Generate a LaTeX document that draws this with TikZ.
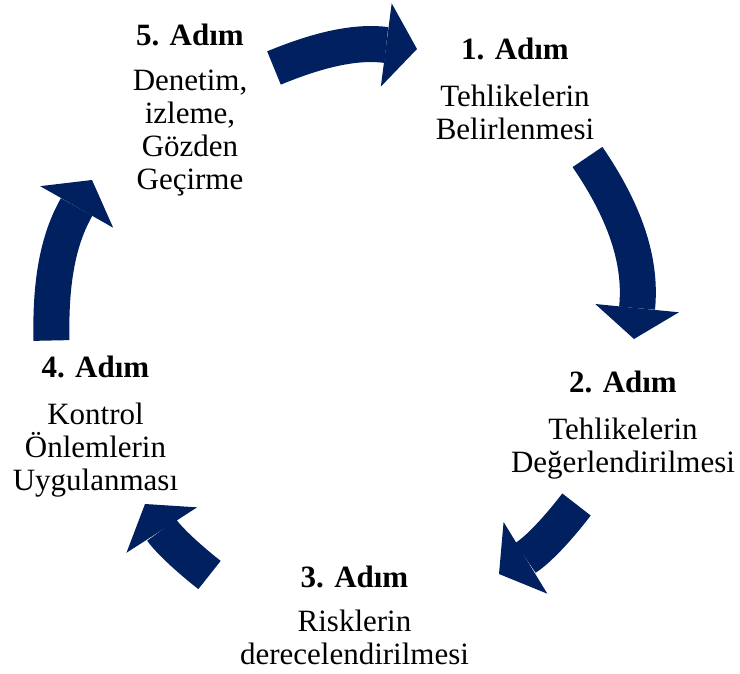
\documentclass[tikz,border=0pt]{standalone}
\usepackage{fontspec}
\setmainfont{Liberation Serif}
\usetikzlibrary{positioning,arrows.meta}
\definecolor{navy}{HTML}{002060}

\begin{document}
\begin{tikzpicture}[x=1pt, y=1pt,
    steptitle/.style={font=\fontsize{31}{33}\selectfont\bfseries, inner sep=0pt},
    stepbody/.style={font=\fontsize{31}{33}\selectfont, align=center, inner sep=0pt},
    cycarrow/.style={draw=navy, line width=36pt, -{Triangle[width=84pt,length=31pt,line width=0pt]}}]
    \useasboundingbox (0,0) rectangle (740,673);

    \node[steptitle] (t1) at (515,624) {1. Adım};
    \node[steptitle] (t2) at (623,291) {2. Adım};
    \node[steptitle] (t3) at (354.5,96) {3. Adım};
    \node[steptitle] (t4) at (95.5,306) {4. Adım};
    \node[steptitle] (t5) at (190,638) {5. Adım};

    \node[stepbody, below=25pt of t1] (b1) {Tehlikelerin\\Belirlenmesi};
    \node[stepbody, below=25pt of t2] (b2) {Tehlikelerin\\Değerlendirilmesi};
    \node[stepbody, below=22pt of t3] (b3) {Risklerin\\derecelendirilmesi};
    \node[stepbody, below=25pt of t4] (b4) {Kontrol\\Önlemlerin\\Uygulanması};
    \node[stepbody, below=24pt of t5] (b5) {Denetim,\\izleme,\\Gözden\\Geçirme};

    \coordinate (a1) at (274,605);   \coordinate (p1) at (417,624);
    \coordinate (a2) at (587.5,516); \coordinate (p2) at (634,334);
    \coordinate (a3) at (576.5,168.5); \coordinate (p3) at (499,99);
    \coordinate (a4) at (209.5,98);  \coordinate (p4) at (145,169);
    \coordinate (a5) at (51.5,332.5); \coordinate (p5) at (92,493);

    \draw[cycarrow] (a1) to[bend left=15] (p1);
    \draw[cycarrow] (a2) to[bend left=20] (p2);
    \draw[cycarrow] (a3) to[bend left=10.5] (p3);
    \draw[cycarrow] (a4) to[bend left=9.5] (p4);
    \draw[cycarrow] (a5) to[bend left=15.5] (p5);
\end{tikzpicture}
\end{document}
